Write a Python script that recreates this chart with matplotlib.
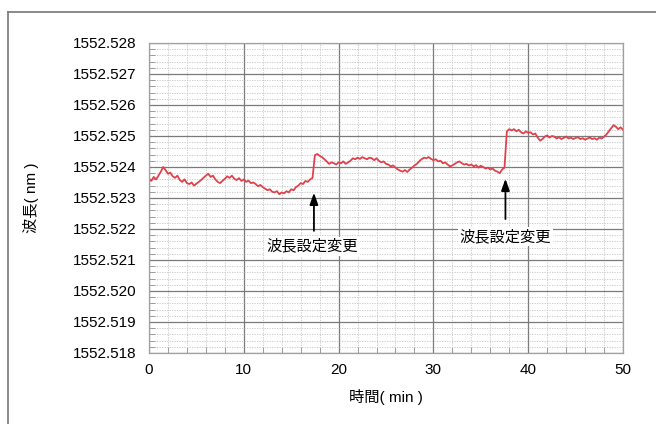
import numpy as np
import matplotlib
matplotlib.use("Agg")
from matplotlib import pyplot as plt
from matplotlib.ticker import MultipleLocator, FormatStrFormatter
from matplotlib.lines import Line2D

plt.rcParams['font.family'] = ['Liberation Sans', 'Noto Sans CJK JP', 'DejaVu Sans']

# wavelength readings, sampled every 0.25 min, in units of 1e-5 nm above 1552.52 nm
sample_step_min = 0.25
base_nm = 1552.52
offset_1e5nm = [
    362, 355, 368, 360, 372, 385, 400, 390, 378,
    382, 370, 365, 372, 358, 352, 360, 348,
    345, 350, 340, 346, 352, 358, 365, 372,
    378, 368, 372, 360, 352, 348, 355, 362,
    370, 365, 372, 362, 358, 364, 355, 360,
    352, 356, 348, 350, 345, 338, 342, 335,
    330, 325, 328, 320, 318, 322, 312, 318,
    315, 322, 318, 328, 325, 335, 340, 348,
    345, 355, 352, 360, 365,
    438, 442, 436,
    432, 425, 418, 410, 415, 412, 408, 415,
    412, 418, 410, 415, 420, 428, 425, 430,
    426, 432, 428, 425, 430, 428, 422, 428,
    420, 415, 418, 410, 408, 402, 405, 398,
    392, 388, 385, 390, 384, 392, 398, 405,
    410, 418, 425, 430, 428, 432, 426, 422,
    425, 418, 420, 412, 415, 408, 402, 405,
    410, 415, 418, 412, 408, 410, 405, 408,
    402, 406, 398, 404, 400, 395, 398, 392,
    395, 388, 385, 380, 392, 398,
    515, 522,
    518, 522, 515, 520, 512, 508, 515, 510,
    512, 505, 508, 495, 485, 490, 498, 502,
    495, 500, 498, 492, 496, 490, 494, 498,
    492, 495, 490, 494, 496, 490, 493, 488,
    492, 495, 490, 493, 488, 495, 492, 498,
    505, 515, 525, 535, 530, 522, 528, 520,
]

# annotations: arrow x, arrow tip y, arrow tail y, label x, label y
note_text = "波長設定変更"
note_x = [17.4, 37.6]
note_tip = [1552.52326, 1552.52371]
note_tail = [1552.52185, 1552.52223]
note_label_x = [17.2, 37.6]
note_label_y = [1552.52145, 1552.52176]

time_min = np.arange(len(offset_1e5nm)) * sample_step_min
wavelength = base_nm + np.array(offset_1e5nm) * 1e-5

fig = plt.figure(figsize=(6.56, 4.24), dpi=100)
ax = fig.add_axes([0.2271, 0.1675, 0.7226, 0.7311])

ax.plot(time_min, wavelength, color="#e0424c", linewidth=1.3)

ax.set_xlim(0, 50)
ax.set_ylim(1552.518, 1552.528)
ax.xaxis.set_major_locator(MultipleLocator(10))
ax.xaxis.set_minor_locator(MultipleLocator(2))
ax.yaxis.set_major_locator(MultipleLocator(0.001))
ax.yaxis.set_minor_locator(MultipleLocator(0.0002))
ax.yaxis.set_major_formatter(FormatStrFormatter('%.3f'))

ax.grid(which="major", color="#7a7a7a", linewidth=0.9)
ax.grid(which="minor", color="#c4c4c4", linewidth=0.6, linestyle=(0, (1.5, 1.5)))
ax.set_axisbelow(True)

ax.tick_params(which="both", direction="in", colors="#909090", labelcolor="black", labelsize=11)
ax.tick_params(which="major", length=0)
ax.tick_params(which="minor", length=4)
ax.tick_params(axis="y", pad=9)
ax.tick_params(axis="x", pad=7)
for s in ax.spines.values():
    s.set_color("#a0a0a0")
    s.set_linewidth(0.9)

ax.set_xlabel("時間( min )", fontsize=11)
ax.set_ylabel("波長( nm )", fontsize=11)
ax.xaxis.set_label_coords(0.5, -0.115)
ax.yaxis.set_label_coords(-0.232, 0.5)

for i in range(len(note_x)):
    ax.annotate("", xy=(note_x[i], note_tip[i]), xytext=(note_x[i], note_tail[i]),
                arrowprops=dict(arrowstyle="-|>,head_length=0.7,head_width=0.25",
                                color="black", linewidth=1.3))
    ax.text(note_label_x[i], note_label_y[i], note_text, fontsize=11,
            ha="center", va="center",
            bbox=dict(facecolor="white", edgecolor="none", pad=1.5))

# outer frame (only top and left edges visible)
fig.add_artist(Line2D([8 / 656, 1.0], [1 - 12 / 424, 1 - 12 / 424],
                      transform=fig.transFigure, color="#808080", linewidth=1.3))
fig.add_artist(Line2D([8 / 656, 8 / 656], [0, 1 - 12 / 424],
                      transform=fig.transFigure, color="#808080", linewidth=1.3))

fig.savefig("out.png", dpi=100)
